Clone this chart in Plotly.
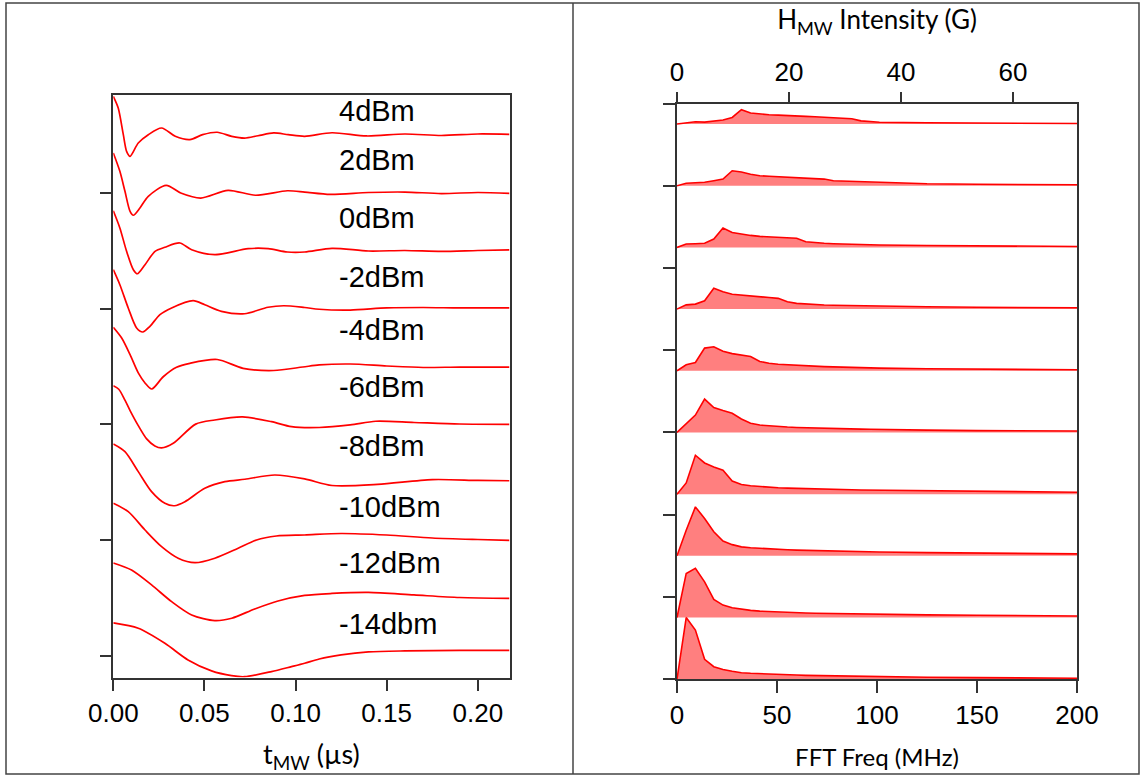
import plotly.graph_objects as go

# ---------------- Rabi oscillations vs microwave pulse length ----------------
# time (µs) and signal (a.u., relative to each trace's own baseline)
power_labels = ["4dBm", "2dBm", "0dBm", "-2dBm", "-4dBm",
                "-6dBm", "-8dBm", "-10dBm", "-12dBm", "-14dbm"]

t_p4 = [0, 0.0027, 0.0055, 0.0073, 0.0092, 0.0137, 0.0192, 0.0265, 0.034, 0.042,
        0.049, 0.057, 0.065, 0.072, 0.0794, 0.088, 0.096, 0.105, 0.12, 0.139,
        0.16, 0.18, 0.20, 0.2174]
s_p4 = [0.339, 0.238, 0.007, -0.137, -0.180, -0.065, 0.007, 0.065, -0.007, -0.036,
        0.007, 0.028, -0.007, -0.022, -0.002, 0.022, 0.007, -0.007, 0.024, -0.004,
        0.013, 0.0, 0.013, 0.010]

t_p2 = [0, 0.0036, 0.0064, 0.0092, 0.011, 0.0146, 0.0192, 0.029, 0.037, 0.048,
        0.063, 0.078, 0.0955, 0.105, 0.119, 0.14, 0.16, 0.18, 0.20, 0.2174]
s_p2 = [0.349, 0.190, 0.017, -0.156, -0.190, -0.127, -0.026, 0.069, 0.003, -0.041,
        0.026, -0.017, 0.022, 0.011, -0.009, 0.007, 0.011, -0.002, 0.007, 0.0]

t_0 = [0, 0.0036, 0.0073, 0.011, 0.0132, 0.0174, 0.0229, 0.0283, 0.0365, 0.043,
       0.0557, 0.074, 0.085, 0.0955, 0.105, 0.12, 0.14, 0.16, 0.18, 0.20, 0.2174]
s_0 = [0.349, 0.200, -0.002, -0.161, -0.196, -0.118, -0.002, 0.033, 0.070, 0.012,
       -0.031, 0.021, 0.021, -0.008, -0.008, 0.024, 0.001, 0.005, -0.003, 0.005, 0.010]

t_m2 = [0, 0.0036, 0.0082, 0.0128, 0.0162, 0.0201, 0.0256, 0.032, 0.0438, 0.0502,
        0.0593, 0.072, 0.0849, 0.0935, 0.105, 0.113, 0.13, 0.15, 0.17, 0.19, 0.2174]
s_m2 = [0.339, 0.209, 0.008, -0.165, -0.200, -0.151, -0.050, 0.008, 0.071, 0.036,
        -0.021, -0.042, 0.014, 0.027, 0.012, -0.003, -0.010, 0.008, 0.012, 0.008, 0.008]

t_m4 = [0, 0.0046, 0.0092, 0.0137, 0.0174, 0.0211, 0.0274, 0.0347, 0.042, 0.057,
        0.0712, 0.088, 0.104, 0.113, 0.13, 0.15, 0.17, 0.19, 0.2174]
s_m4 = [0.341, 0.248, 0.104, -0.054, -0.141, -0.193, -0.087, -0.005, 0.029, 0.062,
        -0.014, -0.033, -0.003, 0.015, 0.023, 0.006, -0.007, -0.003, -0.003]

t_m6 = [0, 0.003, 0.0064, 0.0092, 0.0137, 0.0183, 0.0228, 0.0265, 0.0329, 0.0452,
        0.0557, 0.071, 0.0868, 0.0978, 0.113, 0.13, 0.144, 0.165, 0.19, 0.2174]
s_m6 = [0.336, 0.305, 0.210, 0.120, -0.010, -0.125, -0.186, -0.203, -0.163, 0.003,
        0.039, 0.065, 0.024, -0.019, -0.026, -0.004, 0.028, 0.017, 0.004, 0.001]

t_m8 = [0, 0.0064, 0.0137, 0.021, 0.0283, 0.0335, 0.0393, 0.0502, 0.0612, 0.0722,
        0.0886, 0.105, 0.12, 0.145, 0.175, 0.20, 0.2174]
s_m8 = [0.331, 0.265, 0.092, -0.081, -0.182, -0.203, -0.168, -0.052, 0.005, 0.026,
        0.063, 0.029, -0.028, -0.019, 0.023, 0.016, 0.013]

t_m10 = [0, 0.0082, 0.0174, 0.0265, 0.0356, 0.0448, 0.0557, 0.0685, 0.0786, 0.0895,
         0.105, 0.125, 0.15, 0.175, 0.20, 0.2174]
s_m10 = [0.318, 0.246, 0.087, -0.057, -0.157, -0.196, -0.157, -0.071, 0.001, 0.035,
         0.044, 0.057, 0.044, 0.018, 0.005, -0.002]

t_m12 = [0, 0.010, 0.021, 0.032, 0.043, 0.0557, 0.065, 0.0776, 0.0904, 0.105,
         0.12, 0.14, 0.165, 0.19, 0.2174]
s_m12 = [0.302, 0.241, 0.112, -0.033, -0.148, -0.197, -0.176, -0.096, -0.027, 0.021,
         0.038, 0.047, 0.025, 0.003, -0.005]

t_m14 = [0, 0.0137, 0.0283, 0.041, 0.0539, 0.0649, 0.072, 0.0868, 0.0978, 0.105,
         0.113, 0.125, 0.14, 0.16, 0.19, 0.2174]
s_m14 = [0.283, 0.237, 0.107, -0.037, -0.132, -0.173, -0.182, -0.138, -0.095, -0.066,
         -0.029, 0.006, 0.032, 0.041, 0.045, 0.045]

# ---------------- FFT spectra ----------------
freq_mhz = [0, 4.6, 9.2, 13.8, 18.4, 23.0, 27.6, 32.2, 36.8, 41.4, 46.0, 50.6, 55.2,
            59.8, 64.4, 69.0, 73.6, 78.2, 82.8, 87.4, 92.0, 96.6, 101.2, 125, 150, 175, 200]

fft_p4 = [0, 0.016, 0.028, 0.024, 0.032, 0.049, 0.080, 0.174, 0.134, 0.122, 0.113, 0.109,
          0.101, 0.097, 0.093, 0.089, 0.085, 0.080, 0.077, 0.064, 0.039, 0.028, 0.022,
          0.016, 0.012, 0.010, 0.007]
fft_p2 = [0, 0.030, 0.036, 0.043, 0.061, 0.081, 0.182, 0.168, 0.140, 0.122, 0.115, 0.109,
          0.106, 0.101, 0.097, 0.091, 0.081, 0.061, 0.057, 0.053, 0.049, 0.043, 0.036,
          0.024, 0.018, 0.015, 0.012]
fft_0 = [0, 0.041, 0.045, 0.051, 0.102, 0.236, 0.182, 0.160, 0.146, 0.134, 0.128, 0.123,
         0.118, 0.112, 0.069, 0.057, 0.050, 0.045, 0.041, 0.039, 0.036, 0.033, 0.030,
         0.023, 0.018, 0.015, 0.012]
fft_m2 = [0, 0.052, 0.061, 0.101, 0.253, 0.210, 0.180, 0.168, 0.156, 0.149, 0.141, 0.131,
          0.089, 0.070, 0.061, 0.055, 0.050, 0.046, 0.044, 0.041, 0.040, 0.038, 0.035,
          0.028, 0.022, 0.018, 0.016]
fft_m4 = [0, 0.073, 0.101, 0.276, 0.292, 0.237, 0.209, 0.191, 0.173, 0.114, 0.091, 0.080,
          0.073, 0.067, 0.061, 0.056, 0.051, 0.047, 0.044, 0.040, 0.036, 0.034, 0.032,
          0.024, 0.018, 0.015, 0.012]
fft_m6 = [0, 0.102, 0.211, 0.406, 0.304, 0.266, 0.233, 0.164, 0.113, 0.090, 0.079, 0.072,
          0.066, 0.061, 0.057, 0.053, 0.051, 0.049, 0.046, 0.044, 0.041, 0.039, 0.036,
          0.029, 0.023, 0.021, 0.018]
fft_m8 = [0, 0.136, 0.473, 0.379, 0.330, 0.290, 0.160, 0.117, 0.102, 0.091, 0.084, 0.078,
          0.073, 0.069, 0.066, 0.063, 0.061, 0.058, 0.056, 0.053, 0.051, 0.050, 0.047,
          0.040, 0.033, 0.028, 0.023]
fft_m10 = [0, 0.312, 0.595, 0.454, 0.292, 0.179, 0.136, 0.109, 0.098, 0.090, 0.084, 0.079,
           0.074, 0.070, 0.067, 0.063, 0.061, 0.058, 0.056, 0.053, 0.051, 0.049, 0.046,
           0.039, 0.033, 0.028, 0.024]
fft_m12 = [0, 0.536, 0.597, 0.434, 0.220, 0.151, 0.118, 0.100, 0.087, 0.078, 0.072, 0.067,
           0.062, 0.058, 0.055, 0.052, 0.050, 0.047, 0.045, 0.044, 0.041, 0.040, 0.038,
           0.032, 0.027, 0.023, 0.019]
fft_m14 = [0, 0.750, 0.598, 0.242, 0.152, 0.119, 0.096, 0.079, 0.072, 0.066, 0.061, 0.057,
           0.053, 0.051, 0.047, 0.045, 0.043, 0.040, 0.038, 0.035, 0.033, 0.032, 0.030,
           0.024, 0.019, 0.016, 0.012]

# gyromagnetic conversion for the top axis (MHz per gauss)
MHZ_PER_G = 2.8
field_ticks = [0, 20, 40, 60]

# ---------------- assemble ----------------
time_series = [(t_p4, s_p4), (t_p2, s_p2), (t_0, s_0), (t_m2, s_m2), (t_m4, s_m4),
               (t_m6, s_m6), (t_m8, s_m8), (t_m10, s_m10), (t_m12, s_m12), (t_m14, s_m14)]
fft_series = [fft_p4, fft_p2, fft_0, fft_m2, fft_m4, fft_m6, fft_m8, fft_m10, fft_m12, fft_m14]

n = len(power_labels)
LEFT_STEP = 0.5    # vertical offset between time traces
RIGHT_STEP = 0.75  # vertical offset between spectra

RED = "#ff0000"
FILL = "rgba(255,0,0,0.5)"
AXIS_COLOR = "#333333"
TICK_FONT = dict(family="Liberation Sans, Arial, sans-serif", size=26, color="black")
TITLE_FONT = dict(family="Lato, Open Sans, sans-serif", size=24, color="black")

fig = go.Figure()

for i, (t, s) in enumerate(time_series):
    off = (n - 1 - i) * LEFT_STEP
    fig.add_trace(go.Scatter(
        x=t, y=[v + off for v in s], mode="lines",
        line=dict(color=RED, width=1.7, shape="spline", smoothing=0.8),
        xaxis="x", yaxis="y", showlegend=False, hoverinfo="skip"))

for i, spec in enumerate(fft_series):
    off = (n - 1 - i) * RIGHT_STEP
    fig.add_trace(go.Scatter(
        x=[freq_mhz[0], freq_mhz[-1]], y=[off, off], mode="lines",
        line=dict(width=0, color=FILL), xaxis="x2", yaxis="y2",
        showlegend=False, hoverinfo="skip"))
    fig.add_trace(go.Scatter(
        x=freq_mhz, y=[v + off for v in spec], mode="lines",
        line=dict(color=RED, width=1.6), fill="tonexty", fillcolor=FILL,
        xaxis="x2", yaxis="y2", showlegend=False, hoverinfo="skip"))

# the bottom spectrum again, in gauss, invisible: it only carries the top field axis
fig.add_trace(go.Scatter(
    x=[f / MHZ_PER_G for f in freq_mhz], y=fft_m14, mode="lines",
    line=dict(width=0), opacity=0, xaxis="x3", yaxis="y2",
    showlegend=False, hoverinfo="skip"))

# power labels next to each time trace
label_rise = [0.21, 0.29, 0.29, 0.28, 0.32, 0.32, 0.31, 0.29, 0.30, 0.27]
for i, name in enumerate(power_labels):
    off = (n - 1 - i) * LEFT_STEP
    fig.add_annotation(x=0.123, y=off + label_rise[i], xref="x", yref="y",
                       text=name, showarrow=False, xanchor="left", yanchor="middle",
                       font=dict(family="Liberation Sans, Arial, sans-serif",
                                 size=29, color="black"))

common_axis = dict(showline=True, linecolor=AXIS_COLOR, linewidth=1.5, mirror=True,
                   ticks="outside", tickcolor=AXIS_COLOR, tickwidth=1.5, ticklen=12,
                   showgrid=False, zeroline=False, tickfont=TICK_FONT, automargin=False)

W, H = 1143, 778
fig.update_layout(
    width=W, height=H, margin=dict(l=0, r=0, t=0, b=0, pad=0, autoexpand=False),
    paper_bgcolor="white", plot_bgcolor="white", showlegend=False,
    xaxis=dict(common_axis, domain=[113.3 / W, 509.5 / W], range=[0, 0.2174],
               tickvals=[0, 0.05, 0.10, 0.15, 0.20], tickformat=".2f", anchor="y",
               title=dict(text="t<sub>MW</sub> (µs)",
                          font=dict(TITLE_FONT, size=27), standoff=18)),
    yaxis=dict(common_axis, domain=[1 - 677.5 / H, 1 - 94.7 / H],
               range=[-0.189, 4.853], tickvals=[0, 1, 2, 3, 4],
               showticklabels=False, anchor="x"),
    xaxis2=dict(common_axis, domain=[677 / W, 1077 / W], range=[0, 200],
                tickvals=[0, 50, 100, 150, 200], anchor="y2",
                title=dict(text="FFT Freq (MHz)", font=TITLE_FONT, standoff=20)),
    yaxis2=dict(common_axis, domain=[1 - 679.2 / H, 1 - 103.5 / H],
                range=[0, 7], tickvals=list(range(8)), showticklabels=False,
                anchor="x2"),
    xaxis3=dict(common_axis, overlaying="x2", side="top", anchor="y2",
                range=[0, freq_mhz[-1] / MHZ_PER_G], tickvals=field_ticks, ticklen=10,
                mirror=False,
                title=dict(text="H<sub>MW</sub> Intensity (G)",
                           font=dict(TITLE_FONT, size=26), standoff=20)),
    shapes=[
        dict(type="rect", xref="paper", yref="paper",
             x0=6 / W, x1=1139 / W, y0=1 - 774 / H, y1=1 - 3 / H,
             line=dict(color="#444444", width=1.5)),
        dict(type="line", xref="paper", yref="paper",
             x0=573 / W, x1=573 / W, y0=1 - 774 / H, y1=1 - 3 / H,
             line=dict(color="#444444", width=1.5)),
    ],
)

fig.write_html("out.html")
